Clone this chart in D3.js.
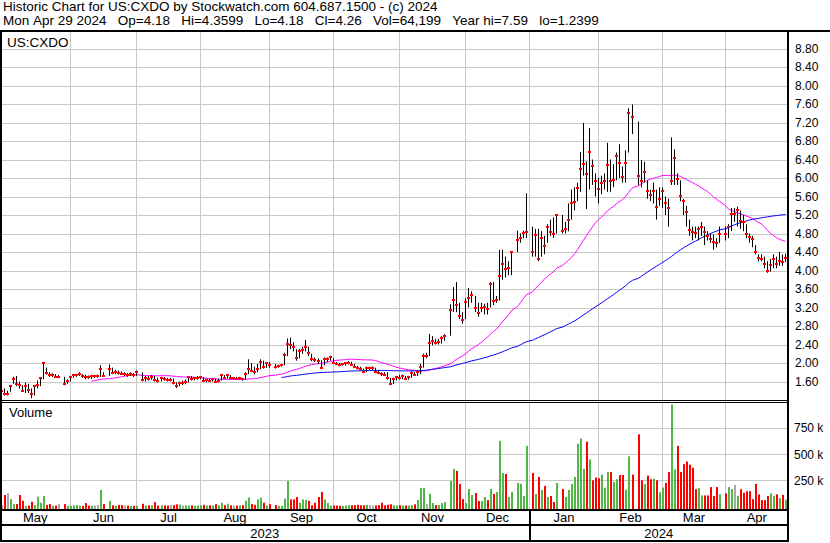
<!DOCTYPE html>
<html lang="en">
<head>
<meta charset="UTF-8">
<title>US:CXDO historic chart</title>
<script src="https://cdn.jsdelivr.net/npm/d3@7"></script>
<style>
    body { margin: 0; background: #fff; }
    svg { display: block; font-family: Arial, "Liberation Sans", sans-serif; }
    .grid line { stroke: #c8c8c8; stroke-width: 1; shape-rendering: crispEdges; }
    .grid path { display: none; }
    .axis path { display: none; }
    .axis text { font-size: 12px; fill: #000; }
</style>
</head>
<body>
<div id="chart"></div>
<script>
    const width = 830
    const height = 543

    const header1 = "Historic Chart for US:CXDO by Stockwatch.com 604.687.1500 - (c) 2024"
    const header2 = "Mon Apr 29 2024   Op=4.18   Hi=4.3599   Lo=4.18   Cl=4.26   Vol=64,199   Year hi=7.59   lo=1.2399"
    const symbol = "US:CXDO"

    // market holidays inside the window (no bar, but the weekday slot stays)
    const holidays = ["2023-05-29","2023-06-19","2023-07-04","2023-09-04","2023-11-23",
        "2023-12-25","2024-01-01","2024-01-15","2024-02-19","2024-03-29"]

    // daily closes, one line per month (May 2023 .. Apr 2024)
    const closes = [
        1.40,1.34,1.34,1.51,1.65,1.55,1.52,1.40,1.50,1.41,1.33,1.51,1.52,1.67,2.00,1.79,1.73,1.74,1.70,1.70,1.55,1.61,
        1.70,1.73,1.74,1.76,1.72,1.70,1.69,1.71,1.71,1.71,1.88,1.72,1.86,1.79,1.81,1.79,1.76,1.76,1.74,1.76,1.74,
        1.80,1.63,1.68,1.66,1.70,1.63,1.62,1.68,1.65,1.64,1.64,1.56,1.50,1.56,1.56,1.60,1.69,1.66,1.67,1.68,
        1.69,1.62,1.63,1.62,1.65,1.60,1.62,1.74,1.67,1.74,1.67,1.67,1.66,1.67,1.65,1.77,1.86,1.83,1.80,1.88,2.03,1.92,1.99,
        1.95,1.92,1.93,1.95,2.17,2.42,2.40,2.35,2.10,2.25,2.28,2.35,2.21,2.08,2.06,2.05,1.90,2.08,2.09,2.12,
        2.01,1.97,1.96,1.97,1.99,2.01,1.96,1.92,1.89,1.86,1.81,1.89,1.89,1.89,1.81,1.78,1.76,1.75,1.67,1.54,1.65,1.70,
        1.67,1.72,1.66,1.70,1.79,1.74,1.80,1.92,2.16,2.16,2.44,2.48,2.44,2.46,2.53,2.59,3.15,3.37,3.26,3.02,2.94,
        3.31,3.40,3.48,3.20,3.08,3.20,3.22,3.16,3.71,3.35,3.37,3.89,4.14,4.03,4.06,4.40,4.66,4.71,4.82,4.84,
        4.40,4.76,4.24,4.71,4.53,4.95,4.84,4.80,5.19,4.86,4.90,5.10,5.47,5.49,5.79,6.20,6.31,6.09,6.57,6.27,5.94,
        5.77,5.90,5.93,6.29,5.93,5.95,6.47,6.33,6.03,6.33,7.40,7.31,6.05,5.94,6.14,5.72,5.64,5.72,5.38,5.55,
        5.72,5.47,5.36,5.94,6.43,5.98,5.62,5.51,5.27,4.88,4.83,4.81,4.89,4.93,4.84,4.75,4.68,4.62,4.60,4.80,
        4.79,4.93,5.22,5.22,5.30,5.07,5.05,4.80,4.73,4.68,4.41,4.27,4.25,4.14,4.00,4.11,4.25,4.14,4.21,4.18,4.26
    ]
    const highs = [
        1.52,1.45,1.40,1.52,1.70,1.72,1.60,1.52,1.58,1.55,1.45,1.52,1.62,1.70,2.02,1.90,1.80,1.78,1.76,1.74,1.70,1.65,
        1.72,1.76,1.76,1.80,1.76,1.75,1.73,1.74,1.74,1.75,1.95,1.80,1.97,1.90,1.85,1.84,1.82,1.80,1.78,1.80,1.78,
        1.84,1.80,1.72,1.72,1.74,1.72,1.68,1.70,1.70,1.68,1.68,1.66,1.58,1.60,1.62,1.64,1.72,1.72,1.70,1.72,
        1.72,1.70,1.66,1.66,1.68,1.66,1.66,1.76,1.74,1.76,1.74,1.70,1.70,1.70,1.68,1.80,2.08,2.00,1.92,1.98,2.08,2.05,2.02,
        2.02,1.98,1.96,1.98,2.22,2.53,2.55,2.45,2.30,2.30,2.35,2.50,2.35,2.20,2.12,2.10,2.06,2.12,2.12,2.16,
        2.10,2.02,2.00,2.00,2.02,2.04,2.03,1.98,1.94,1.92,1.88,1.92,1.92,1.93,1.90,1.84,1.80,1.80,1.80,1.68,1.68,1.72,
        1.74,1.75,1.72,1.72,1.82,1.80,1.84,1.98,2.20,2.22,2.63,2.58,2.52,2.52,2.58,2.62,3.27,3.64,3.75,3.30,3.10,
        3.40,3.62,3.55,3.45,3.30,3.30,3.28,3.30,3.75,3.75,3.45,4.45,4.45,4.30,4.20,4.42,4.86,4.80,4.86,5.67,
        4.95,4.90,4.90,4.85,4.75,5.00,5.10,5.15,5.22,5.20,5.05,5.45,5.75,5.80,5.90,6.56,7.19,6.36,7.08,6.40,6.10,
        6.00,6.05,6.10,6.76,6.40,6.30,6.55,6.73,6.25,6.60,7.51,7.59,7.22,6.39,6.35,5.95,5.75,5.90,5.75,5.80,
        5.80,5.60,5.55,6.88,6.62,6.10,5.95,5.55,5.40,5.10,4.95,4.95,4.95,5.05,4.95,4.85,4.80,4.78,4.70,4.95,
        4.95,5.00,5.35,5.35,5.38,5.30,5.20,5.00,4.80,4.75,4.55,4.35,4.35,4.30,4.20,4.25,4.35,4.30,4.40,4.35,4.3599
    ]
    const lows = [
        1.36,1.30,1.30,1.38,1.55,1.50,1.45,1.38,1.35,1.35,1.24,1.30,1.45,1.50,1.65,1.75,1.70,1.70,1.68,1.68,1.52,1.55,
        1.60,1.68,1.70,1.72,1.68,1.65,1.66,1.66,1.68,1.68,1.70,1.70,1.72,1.76,1.76,1.75,1.74,1.72,1.70,1.72,1.70,
        1.72,1.60,1.60,1.62,1.64,1.60,1.58,1.60,1.62,1.60,1.60,1.54,1.46,1.50,1.52,1.54,1.58,1.62,1.62,1.64,
        1.65,1.60,1.58,1.60,1.60,1.58,1.58,1.62,1.65,1.66,1.65,1.64,1.64,1.64,1.62,1.64,1.76,1.80,1.76,1.80,1.86,1.88,1.90,
        1.90,1.88,1.90,1.92,1.95,2.15,2.30,2.25,2.05,2.10,2.20,2.25,2.15,2.04,2.02,1.98,1.88,1.95,2.02,2.05,
        1.98,1.95,1.93,1.94,1.95,1.97,1.94,1.90,1.86,1.84,1.78,1.80,1.85,1.85,1.78,1.76,1.72,1.72,1.64,1.52,1.55,1.62,
        1.64,1.65,1.64,1.64,1.68,1.72,1.72,1.76,1.90,2.10,2.15,2.38,2.40,2.40,2.42,2.48,2.59,3.10,3.10,2.95,2.85,
        2.95,3.20,3.30,3.10,3.00,3.10,3.05,3.05,3.20,3.25,3.30,3.35,3.80,3.85,3.90,3.90,4.40,4.60,4.70,4.70,
        4.30,4.30,4.20,4.30,4.35,4.60,4.75,4.70,4.80,4.80,4.80,4.85,5.10,5.30,5.50,5.70,6.05,5.33,5.75,5.85,5.60,
        5.45,5.65,5.75,5.70,5.70,5.80,5.95,6.00,5.90,5.90,6.55,6.95,5.85,5.80,5.90,5.55,5.50,5.45,5.10,5.40,
        5.35,5.20,4.95,5.85,5.85,5.85,5.50,5.20,4.95,4.75,4.65,4.70,4.65,4.75,4.55,4.65,4.60,4.45,4.50,4.60,
        4.65,4.70,4.85,5.05,4.95,4.90,4.85,4.70,4.60,4.50,4.35,4.20,4.20,4.05,3.95,3.98,4.05,4.05,4.10,4.10,4.18
    ]
    // daily volume, thousands of shares
    const volumes = [
        13,109,128,70,22,22,109,54,5,8,45,13,93,35,99,13,22,5,8,22,22,3,
        5,8,13,8,5,32,8,5,8,13,157,22,54,10,8,15,12,10,8,6,5,
        5,25,8,10,12,40,8,10,10,8,15,12,20,18,8,10,8,10,6,8,
        10,15,8,10,8,22,10,35,12,25,10,8,8,10,12,55,85,22,15,67,83,35,8,
        22,13,5,5,74,244,67,67,90,35,67,61,54,10,35,90,138,67,32,8,
        8,8,5,5,8,12,10,12,15,12,10,15,12,8,10,12,35,10,15,20,10,8,
        12,8,8,8,12,20,61,176,176,22,119,32,13,13,32,42,244,359,340,215,70,
        32,167,109,128,51,51,90,61,167,119,138,628,320,311,90,138,224,215,99,580,
        320,119,282,157,196,90,99,42,224,167,90,157,215,282,600,650,359,620,450,250,276,
        270,305,180,330,330,235,260,300,300,160,480,305,690,250,215,295,260,265,250,135,
        180,225,330,975,355,580,330,405,430,400,370,165,175,105,105,105,185,100,185,115,
        125,185,165,205,100,165,130,145,145,70,215,115,60,60,100,125,100,115,80,110,64.199
    ]

    const priceTicks = [1.6,2.0,2.4,2.8,3.2,3.6,4.0,4.4,4.8,5.2,5.6,6.0,6.4,6.8,7.2,7.6,8.0,8.4,8.8]
    const volumeTicks = [250,500,750]
    const years = ["2023","2024"]
    const maPeriods = [30, 90]
    const maColors = ["#ff00ff", "#0000ff"]
    const volColors = {up: "#50b848", down: "#ff0000", flat: "#a8a8a8"}

    // layout
    const plotLeft = 0, plotRight = 788
    const priceTop = 32, priceBottom = 400
    const volTop = 402, volBottom = 509
    const monthTop = 510, yearTop = 525, chartBottom = 541

    const fmt = d3.timeFormat("%Y-%m-%d")
    const weekdays = d3.timeDay.range(new Date(2023, 4, 1), new Date(2024, 3, 30))
        .filter(d => d.getDay() !== 0 && d.getDay() !== 6)
    const tradingDays = weekdays.filter(d => !holidays.includes(fmt(d)))

    const data = tradingDays.map((d, k) => ({
        date: d, c: closes[k], h: highs[k], l: lows[k], v: volumes[k],
        dir: k === 0 ? "flat" : closes[k] > closes[k-1] ? "up" : closes[k] < closes[k-1] ? "down" : "flat"
    }))
    maPeriods.forEach((n, j) => {
        data.forEach((d, k) => {
            d["ma" + j] = k < n - 1 ? null : d3.mean(closes.slice(k - n + 1, k + 1))
        })
    })

    const x = d3.scaleBand().domain(weekdays).range([plotLeft, plotRight])
    const px = d => Math.floor(x(d)) + 1.5
    const yP = d3.scaleLinear().domain([1.6, 8.8]).range([381.5, 48.5])
    const yV = d3.scaleLinear().domain([-25, 1000]).range([volBottom, volTop])

    const svg = d3.select("#chart").append("svg")
        .attr("width", width).attr("height", height)
        .attr("viewBox", `0 0 ${width} ${height}`)

    svg.append("rect").attr("width", width).attr("height", height).attr("fill", "#fff")

    // header (wide gaps kept with non-breaking spaces)
    svg.append("text").attr("x", 3).attr("y", 11).attr("font-size", 13.5).text(header1)
    svg.append("text").attr("x", 3).attr("y", 25).attr("font-size", 13.5)
        .text(header2.replace(/ /g, "\u00a0"))

    // month boundaries = first weekday of each month
    const monthStarts = weekdays.filter((d, i) => i > 0 && d.getMonth() !== weekdays[i-1].getMonth())
    const bounds = [plotLeft, ...monthStarts.map(px), plotRight]
    const monthLabels = [weekdays[0], ...monthStarts]

    // gridlines
    svg.append("g").attr("class", "grid")
        .attr("transform", `translate(${plotRight},0)`)
        .call(d3.axisLeft(yP).tickValues(priceTicks).tickSize(plotRight).tickFormat(""))
    svg.append("g").attr("class", "grid")
        .attr("transform", `translate(${plotRight},0)`)
        .call(d3.axisLeft(yV).tickValues(volumeTicks).tickSize(plotRight).tickFormat(""))
    const vg = svg.append("g").attr("class", "grid")
    monthStarts.forEach(d => {
        vg.append("line").attr("x1", px(d)).attr("x2", px(d)).attr("y1", priceTop).attr("y2", priceBottom)
        vg.append("line").attr("x1", px(d)).attr("x2", px(d)).attr("y1", volTop).attr("y2", volBottom)
    })

    svg.append("defs").append("clipPath").attr("id", "priceClip")
        .append("rect").attr("x", plotLeft).attr("y", priceTop)
        .attr("width", plotRight - plotLeft).attr("height", priceBottom - priceTop)

    const pg = svg.append("g").attr("clip-path", "url(#priceClip)")

    // moving averages
    maPeriods.forEach((n, j) => {
        pg.append("path")
            .datum(data)
            .attr("fill", "none")
            .attr("stroke", maColors[j])
            .attr("stroke-width", 1)
            .attr("d", d3.line().defined(d => d["ma" + j] !== null)
                .x(d => px(d.date)).y(d => yP(d["ma" + j])))
    })

    // high-low bars and close ticks
    pg.selectAll(".hl").data(data).enter().append("line")
        .attr("x1", d => px(d.date)).attr("x2", d => px(d.date))
        .attr("y1", d => yP(d.h)).attr("y2", d => yP(d.l))
        .attr("stroke", "#000").attr("stroke-width", 1)
    pg.selectAll(".cl").data(data).enter().append("rect")
        .attr("x", d => Math.floor(x(d.date))).attr("width", 3)
        .attr("y", d => Math.round(yP(d.c)) - 1).attr("height", 2)
        .attr("fill", "#ff0000")

    // volume
    svg.selectAll(".vol").data(data).enter().append("rect")
        .attr("x", d => px(d.date) - 0.5).attr("width", 2)
        .attr("y", d => yV(d.v)).attr("height", d => yV.range()[0] - yV(d.v))
        .attr("fill", d => volColors[d.dir])

    // labels
    svg.append("text").attr("x", 7).attr("y", 47).attr("font-size", 13.5).text(symbol)
    svg.append("text").attr("x", 9).attr("y", 417).attr("font-size", 13).text("Volume")

    svg.append("g").attr("class", "axis")
        .attr("transform", `translate(${plotRight},0)`)
        .call(d3.axisRight(yP).tickValues(priceTicks).tickSize(0).tickPadding(7).tickFormat(d3.format(".2f")))
    svg.append("g").attr("class", "axis")
        .attr("transform", `translate(${plotRight},0)`)
        .call(d3.axisRight(yV).tickValues(volumeTicks).tickSize(0).tickPadding(6).tickFormat(d => d + " k"))

    // month row
    monthLabels.forEach((d, i) => {
        svg.append("text")
            .attr("x", (bounds[i] + bounds[i+1]) / 2).attr("y", 522)
            .attr("text-anchor", "middle").attr("font-size", 13)
            .text(d3.timeFormat("%b")(d))
    })
    // year row
    const jan = monthStarts.find(d => d.getMonth() === 0)
    const yearBounds = [plotLeft, px(jan), plotRight]
    years.forEach((yr, i) => {
        svg.append("text")
            .attr("x", (yearBounds[i] + yearBounds[i+1]) / 2).attr("y", 538)
            .attr("text-anchor", "middle").attr("font-size", 13)
            .text(yr)
    })

    // frame
    const frame = svg.append("g").attr("stroke", "#000").attr("shape-rendering", "crispEdges")
    frame.append("line").attr("x1", 0).attr("x2", width).attr("y1", 31).attr("y2", 31).attr("stroke-width", 2)
    frame.append("line").attr("x1", 1).attr("x2", 1).attr("y1", 30).attr("y2", chartBottom + 1).attr("stroke-width", 2)
    frame.append("line").attr("x1", plotRight).attr("x2", plotRight).attr("y1", 30).attr("y2", chartBottom + 1).attr("stroke-width", 2)
    frame.append("line").attr("x1", 0).attr("x2", plotRight).attr("y1", priceBottom + 0.5).attr("y2", priceBottom + 0.5).attr("stroke-width", 1)
    frame.append("line").attr("x1", 0).attr("x2", plotRight).attr("y1", volTop + 0.5).attr("y2", volTop + 0.5).attr("stroke-width", 1)
    frame.append("line").attr("x1", 0).attr("x2", plotRight).attr("y1", monthTop).attr("y2", monthTop).attr("stroke-width", 2)
    frame.append("line").attr("x1", 0).attr("x2", plotRight).attr("y1", yearTop).attr("y2", yearTop).attr("stroke-width", 2)
    frame.append("line").attr("x1", 0).attr("x2", plotRight).attr("y1", chartBottom).attr("y2", chartBottom).attr("stroke-width", 2)
    frame.append("line").attr("x1", px(jan)).attr("x2", px(jan)).attr("y1", monthTop).attr("y2", chartBottom).attr("stroke-width", 2)
</script>
</body>
</html>
